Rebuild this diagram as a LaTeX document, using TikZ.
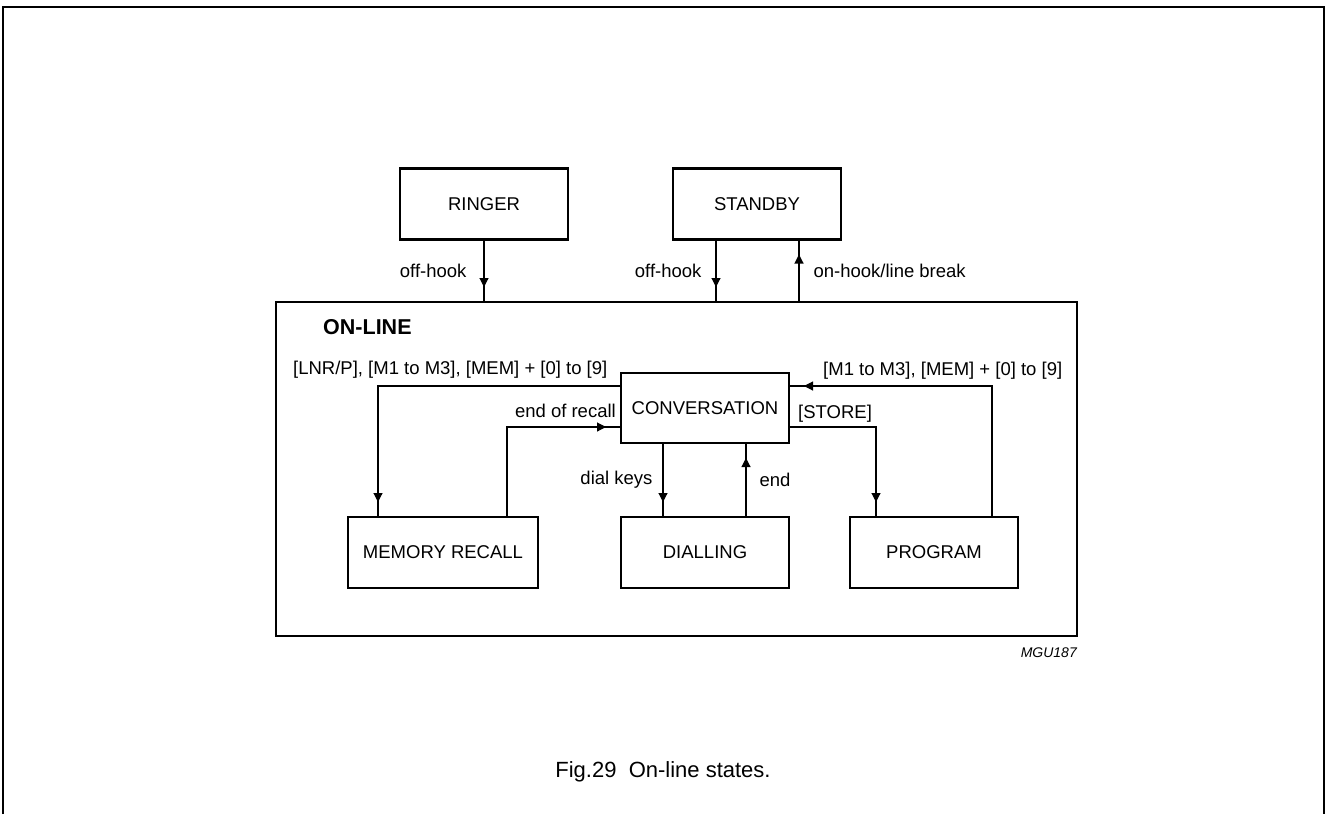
\documentclass[tikz,border=0pt]{standalone}
\usepackage{fontspec}
\setmainfont{Liberation Sans}
\usetikzlibrary{arrows.meta,
                decorations.markings,
                positioning}
\tikzset{statebox/.style =
   {rectangle,
    draw,
    line width=2.2pt,
    outer sep=0pt,
    text centered,
    minimum width=168pt,
    minimum height=71pt,
    font=\fontsize{18.5pt}{21pt}\selectfont}}
\tikzset{superstate/.style =
   {rectangle,
    draw,
    line width=2.2pt,
    outer sep=0pt,
    minimum width=801pt,
    minimum height=334pt}}
\tikzset{flow/.style =
   {draw,
    line width=1.1pt,
    postaction={decorate},
    decoration={markings,
                mark=at position -15pt with {\arrow{Triangle[length=9pt,width=9pt]}}}}}
\tikzset{flowlabel/.style = {inner sep=0pt, font=\fontsize{18.5pt}{21pt}\selectfont}}

\begin{document}
\begin{tikzpicture}[x=1pt, y=-1pt]

        \useasboundingbox (0,0) rectangle (1327,814);

        % page frame, open at the bottom
        \draw [line width=1.5pt] (3,814) -- (3,7) -- (1324,7) -- (1324,814);

        \node [superstate] (online) at (676.5,469) {};
        \node [anchor=base west,
               inner sep=0pt,
               font=\bfseries\fontsize{21.5pt}{24pt}\selectfont] (online-title) at (323,334.5) {ON-LINE};

        \node [statebox] (standby) at (757,204) {STANDBY};

        \node [statebox,
               left=105pt of standby] (ringer) {RINGER};

        \node [statebox,
               minimum height=70pt] (conv) at (705,408) {CONVERSATION};

        \node [statebox,
               below=74pt of conv] (dial) {DIALLING};

        \node [statebox,
               minimum width=190pt,
               left=83pt of dial] (recall) {MEMORY RECALL};

        \node [statebox,
               right=61pt of dial] (prog) {PROGRAM};

        % hook transitions
        \draw [flow] (ringer.south) -- (ringer.south |- online.north)
         node [flowlabel, midway, left=17pt] (ringer-hook) {off-hook};

        \coordinate (standby-down) at ([xshift=-41pt]standby.south);
        \coordinate (standby-up) at ([xshift=42pt]standby.south);

        \draw [flow] (standby-down) -- (standby-down |- online.north)
         node [flowlabel, midway, left=14pt] (standby-hook) {off-hook};

        \draw [flow] (standby-up |- online.north) -- (standby-up)
         node [flowlabel, midway, right=14pt] (standby-break) {on-hook/line break};

        % memory recall
        \coordinate (conv-out-left) at ([yshift=22pt]conv.west);
        \coordinate (conv-in-left) at ([yshift=-19pt]conv.west);
        \coordinate (recall-in) at ([xshift=-65pt]recall.north);
        \coordinate (recall-out) at ([xshift=64pt]recall.north);

        \draw [flow] (conv-out-left) -| (recall-in);
        \draw [flow] (recall-out) |- (conv-in-left);

        \node [flowlabel, anchor=base west] (recall-keys) at (293,374.5)
         {[LNR/P], [M1 to M3], [MEM] + [0] to [9]};
        \node [flowlabel, anchor=base east] (recall-end) at (616,417.5) {end of recall};

        % dialling
        \coordinate (dial-in) at ([xshift=-42pt]dial.north);
        \coordinate (dial-out) at ([xshift=41pt]dial.north);

        \draw [flow] (dial-in |- conv.south) -- (dial-in)
         node [flowlabel, midway, left=10pt] (dial-keys) {dial keys};

        \draw [flow] (dial-out) -- (dial-out |- conv.south)
         node [flowlabel, midway, right=13pt] (dial-end) {end};

        % program
        \coordinate (conv-out-right) at ([yshift=-19pt]conv.east);
        \coordinate (conv-in-right) at ([yshift=22pt]conv.east);
        \coordinate (prog-in) at ([xshift=-58pt]prog.north);
        \coordinate (prog-out) at ([xshift=58pt]prog.north);

        \draw [flow] (conv-out-right) -| (prog-in);
        \draw [flow] (prog-out) |- (conv-in-right);

        \node [flowlabel, anchor=base west] (store-key) at (798,418.5) {[STORE]};
        \node [flowlabel, anchor=base west] (prog-keys) at (823,375.5)
         {[M1 to M3], [MEM] + [0] to [9]};

        \node [anchor=base east,
               inner sep=0pt,
               font=\itshape\fontsize{14pt}{16pt}\selectfont] (fig-code) at (1077,657) {MGU187};

        \node [anchor=base,
               inner sep=0pt,
               font=\fontsize{22pt}{25pt}\selectfont] (caption) at (663,777) {Fig.29\ \ On-line states.};

    \end{tikzpicture}
\end{document}
